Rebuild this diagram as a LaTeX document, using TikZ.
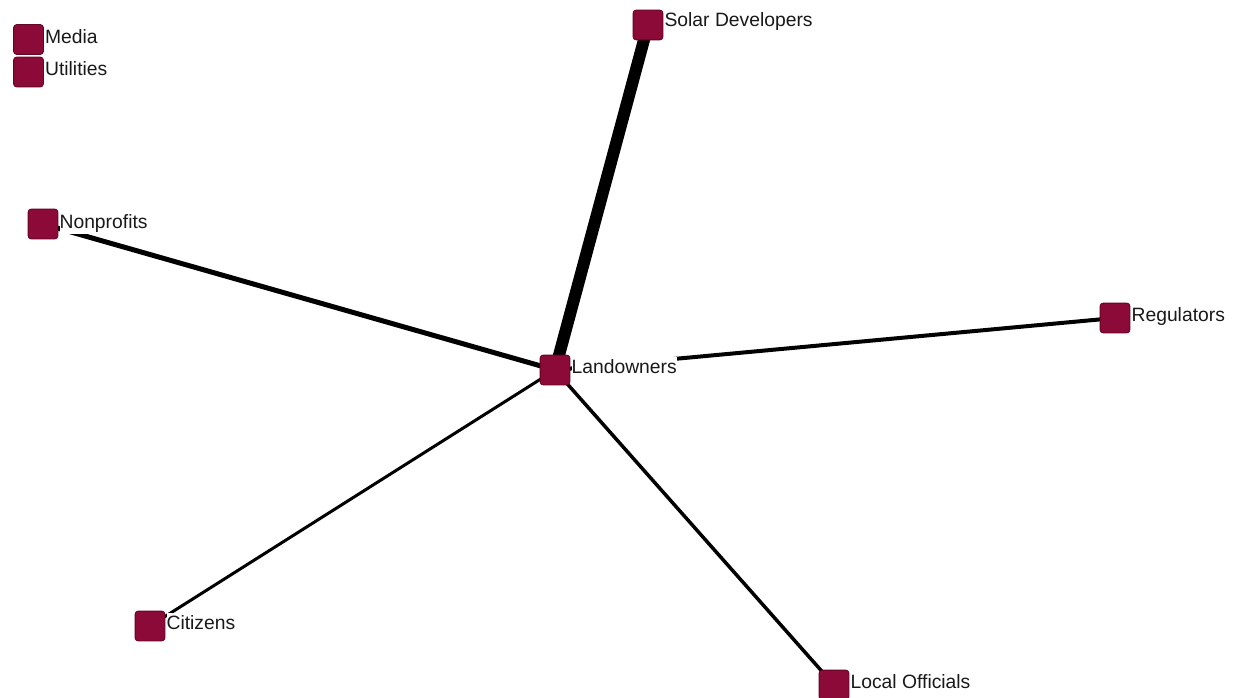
\documentclass[tikz,border=0pt]{standalone}
\usepackage{fontspec}
\setmainfont{Liberation Sans}
\definecolor{nodefill}{RGB}{140,10,55}
\definecolor{nodeedge}{RGB}{100,5,35}
\definecolor{labeltext}{RGB}{25,25,25}
\tikzset{
  actor/.style={draw=nodeedge, line width=0.8pt, fill=nodefill, rounded corners=3pt, minimum width=29pt, minimum height=29pt, inner sep=0pt},
  lbl/.style={anchor=base west, inner xsep=0pt, inner ysep=1.8pt, fill=white, font=\fontsize{19.3}{19.3}\selectfont, text=labeltext},
  tie/.style={draw=black, line cap=butt}
}
\begin{document}
\begin{tikzpicture}[x=1pt,y=-1pt]
\useasboundingbox[fill=white] (0,0) rectangle (1233,698);
\node[actor] (land) at (555,370) {};
\node[actor] (solar) at (648,25) {};
\node[actor] (media) at (28.5,39.5) {};
\node[actor] (util) at (28.5,72) {};
\node[actor] (nonp) at (43,224) {};
\node[actor] (reg) at (1115,318) {};
\node[actor] (cit) at (150,626) {};
\node[actor] (local) at (834,685) {};
% edges
\draw[tie, line width=12pt] (land.center) -- (solar.center);
\draw[tie, line width=5pt] (land.center) -- (nonp.center);
\draw[tie, line width=4pt] (land.center) -- (reg.center);
\draw[tie, line width=3pt] (land.center) -- (cit.center);
\draw[tie, line width=3.5pt] (land.center) -- (local.center);
% redraw nodes on top
\foreach \n in {land,solar,media,util,nonp,reg,cit,local}{
  \path[draw=nodeedge, line width=0.8pt, fill=nodefill, rounded corners=3pt] (\n.north west) rectangle (\n.south east);
}
\node[lbl] (landL) at ([xshift=1.5pt,yshift=-3pt]land.east) {Landowners};
\node[lbl] (solarL) at ([xshift=1.5pt,yshift=-2pt]solar.east) {Solar Developers};
\node[lbl] (mediaL) at ([xshift=1.5pt,yshift=-4pt]media.east) {Media};
\node[lbl] (utilL) at ([xshift=1.5pt,yshift=-4pt]util.east) {Utilities};
\node[lbl] (nonpL) at ([xshift=1.5pt,yshift=-4pt]nonp.east) {Nonprofits};
\node[lbl] (regL) at ([xshift=1.5pt,yshift=-3pt]reg.east) {Regulators};
\node[lbl] (citL) at ([xshift=1.5pt,yshift=-3pt]cit.east) {Citizens};
\node[lbl] (localL) at ([xshift=1.5pt,yshift=-3pt]local.east) {Local Officials};
\end{tikzpicture}
\end{document}
